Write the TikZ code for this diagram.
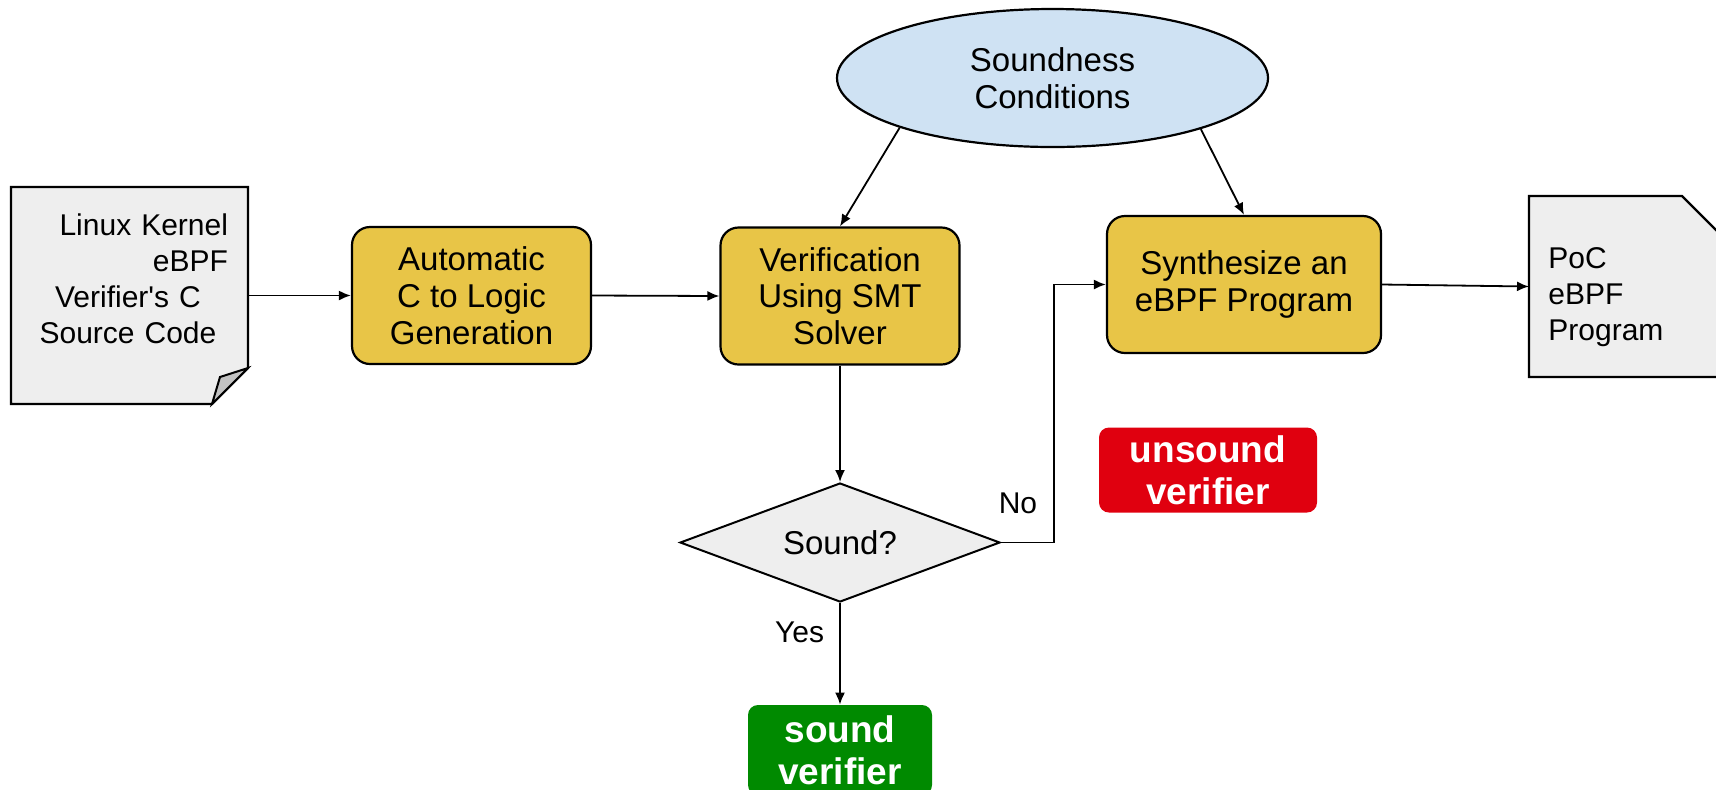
\documentclass[tikz,border=0pt]{standalone}
\usepackage{fontspec}
\setmainfont{Liberation Sans}[Ligatures=TeXOff]
\usetikzlibrary{shapes.geometric,arrows.meta}
\definecolor{stepyellow}{HTML}{E8C547}
\definecolor{condblue}{HTML}{CFE2F3}
\definecolor{docgray}{HTML}{EEEEEE}
\definecolor{foldgray}{HTML}{C2C2C2}
\definecolor{badred}{HTML}{E0000F}
\definecolor{goodgreen}{HTML}{008A00}

\begin{document}
\begin{tikzpicture}[x=0.5pt, y=-0.5pt,
  stepbox/.style={draw=black, line width=1.1pt, fill=stepyellow, rounded corners=9pt,
                  minimum width=119.5pt, minimum height=68.5pt, align=center,
                  inner sep=0pt, font=\fontsize{16.5}{18.4}\selectfont},
  condnode/.style={ellipse, draw=black, line width=1.1pt, fill=condblue,
                   minimum width=215.5pt, minimum height=69pt, inner sep=0pt,
                   align=center, font=\fontsize{16.5}{18.4}\selectfont},
  decision/.style={diamond, draw=black, line width=1pt, fill=docgray, aspect=2.7,
                   minimum width=160pt, minimum height=59.5pt, inner sep=0pt,
                   font=\fontsize{16.5}{18.4}\selectfont},
  docbox/.style={inner sep=0pt, outer sep=0pt},
  docline/.style={draw=black, line width=1.1pt, fill=docgray},
  doctext/.style={inner sep=0pt, font=\fontsize{15}{18}\selectfont},
  verdict/.style={rounded corners=5pt, text=white, align=center, inner sep=0pt,
                  font=\fontsize{18.5}{21}\selectfont\bfseries},
  arrow/.style={-{Latex[length=6pt,width=5pt]}, line width=0.9pt},
  edgelabel/.style={inner sep=0pt, font=\fontsize{15}{18}\selectfont}
]
  \useasboundingbox (0,0) rectangle (1716,789);

  % Source document with folded corner
  \node[docbox, minimum width=118.5pt, minimum height=108.5pt] (srcdoc) at (129.5,295.5) {};
  \draw[docline] (srcdoc.north west) -- (srcdoc.north east)
    -- ([yshift=18pt]srcdoc.south east) -- ([xshift=-18pt]srcdoc.south east)
    -- (srcdoc.south west) -- cycle;
  \draw[draw=black, line width=1pt, fill=foldgray] ([xshift=-18pt]srcdoc.south east)
    -- ([xshift=-14pt,yshift=13.5pt]srcdoc.south east)
    -- ([yshift=18pt]srcdoc.south east) -- cycle;
  \node[doctext, text width=100pt, align=center] (srctext) at (128,279)
    {\hspace*{0pt plus 1fill}Linux Kernel\\
     \hspace*{0pt plus 1fill}eBPF\\
     Verifier's C\\
     Source Code};

  % Pipeline steps
  \node[stepbox] (logic) at (471.5,295.5) {Automatic\\C to Logic\\Generation};
  \node[stepbox] (verify) at (840,296) {Verification\\Using SMT\\Solver};
  \node[stepbox, minimum width=137pt] (synth) at (1244,284.5) {Synthesize an\\eBPF Program};
  \node[condnode] (cond) at (1052.5,78) {Soundness\\Conditions};
  \node[decision] (sound) at (840,542.5) {Sound?};

  % Output document with cut corner
  \node[docbox, minimum width=108pt, minimum height=90.5pt] (poc) at (1637,286.5) {};
  \draw[docline] (poc.north west) -- ([xshift=-31.5pt]poc.north east)
    -- ([yshift=-31.5pt]poc.north east) -- (poc.south east)
    -- (poc.south west) -- cycle;
  \node[doctext, anchor=west, align=left] (poctext) at (1548,297) {PoC\\eBPF\\Program};

  % Verdicts
  \node[verdict, fill=badred, minimum width=109pt, minimum height=42.5pt] (unsound)
    at (1208,470) {unsound\\verifier};
  \node[verdict, fill=goodgreen, minimum width=92pt, minimum height=45pt] (soundv)
    at (840,750) {sound\\verifier};

  % Connectors
  \draw[arrow] (srcdoc.east) -- (logic.west);
  \draw[arrow] (logic.east) -- (verify.west);
  \draw[arrow] (cond.198) -- (verify.north);
  \draw[arrow] (cond.341) -- (synth.north);
  \draw[arrow] (verify.south) -- (sound.north);
  \draw[arrow] (sound.east) -- node[edgelabel, above=14pt, pos=0.32] (nolbl) {No}
    ++(53,0) |- (synth.west);
  \draw[arrow] (sound.south) -- node[edgelabel, left=7.5pt, pos=0.29] (yeslbl) {Yes}
    (soundv.north);
  \draw[arrow] (synth.east) -- (poc.west);
\end{tikzpicture}
\end{document}
